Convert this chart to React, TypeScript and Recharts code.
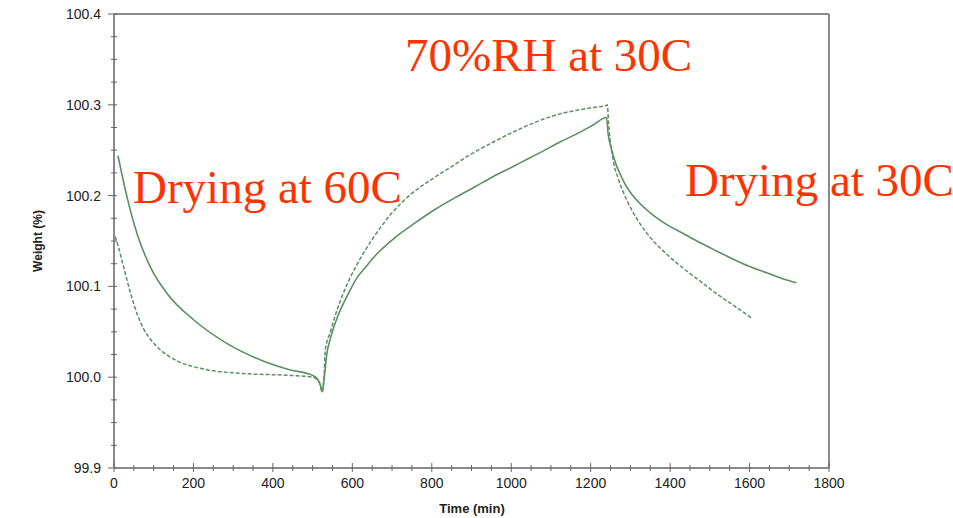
import React from "react";
import { LineChart, Line, XAxis, YAxis, ReferenceLine } from "recharts";

// Solid curve (time in min, weight in %)
const solidTime = [10, 33, 58, 92, 134, 201, 285, 369, 444, 500, 512, 519, 524, 528, 536, 545, 566, 590, 608, 635, 658, 708, 758, 809, 860, 910, 955, 1000, 1040, 1080, 1123, 1165, 1207, 1240, 1244, 1250, 1257, 1265, 1274, 1290, 1308, 1350, 1392, 1434, 1476, 1517, 1559, 1600, 1643, 1680, 1718];
const solidWeight = [100.244, 100.198, 100.158, 100.121, 100.092, 100.063, 100.037, 100.019, 100.008, 100.002, 99.998, 99.992, 99.984, 99.995, 100.026, 100.043, 100.070, 100.092, 100.107, 100.122, 100.134, 100.154, 100.170, 100.185, 100.198, 100.210, 100.221, 100.231, 100.240, 100.249, 100.259, 100.268, 100.278, 100.286, 100.268, 100.255, 100.244, 100.233, 100.224, 100.210, 100.199, 100.181, 100.168, 100.158, 100.148, 100.139, 100.130, 100.122, 100.115, 100.109, 100.104];

// Dashed curve
const dashedTime = [3, 12, 25, 42, 58, 75, 95, 117, 159, 226, 327, 444, 500, 512, 519, 524, 528, 532, 545, 557, 575, 595, 630, 663, 700, 746, 800, 850, 900, 955, 1000, 1040, 1080, 1123, 1165, 1207, 1237, 1242, 1245, 1257, 1270, 1291, 1320, 1350, 1390, 1433, 1475, 1517, 1560, 1606];
const dashedWeight = [100.155, 100.142, 100.120, 100.092, 100.070, 100.053, 100.040, 100.030, 100.018, 100.009, 100.004, 100.002, 100.000, 99.997, 99.992, 99.984, 99.995, 100.030, 100.050, 100.068, 100.090, 100.110, 100.138, 100.160, 100.181, 100.201, 100.218, 100.232, 100.246, 100.259, 100.269, 100.277, 100.284, 100.290, 100.294, 100.297, 100.299, 100.300, 100.280, 100.238, 100.218, 100.195, 100.172, 100.154, 100.136, 100.120, 100.106, 100.092, 100.079, 100.065];

const xMajorTicks = [0, 200, 400, 600, 800, 1000, 1200, 1400, 1600, 1800];
const yMajorTicks = [99.9, 100.0, 100.1, 100.2, 100.3, 100.4];
const xAllTicks = Array.from({ length: 37 }, (_, i) => i * 50);
const yAllTicks = Array.from({ length: 21 }, (_, i) => +(99.9 + i * 0.025).toFixed(3));

const annotations = [
  { text: "Drying at 60C", x: 133, y: 203 },
  { text: "70%RH at 30C", x: 405, y: 71 },
  { text: "Drying at 30C", x: 685, y: 196 },
];

const solidData = solidTime.map((t, i) => ({ t, w: solidWeight[i] }));
const dashedData = dashedTime.map((t, i) => ({ t, w: dashedWeight[i] }));

const AXIS = "#8a8a8a";
const LINE = "#5a9062";
const TXT = "#222";
const FONT = "'Liberation Sans', Arial, sans-serif";

const isMajor = (v: number, list: number[]) => list.some((m) => Math.abs(m - v) < 1e-6);

const XTick = (props: any) => {
  const { x, y, payload } = props;
  const major = isMajor(payload.value, xMajorTicks);
  return (
    <g>
      <line x1={x} x2={x} y1={y - (major ? 5 : 3)} y2={y + (major ? 4 : 3)} stroke="#666" strokeWidth={1} />
      {major && (
        <text x={x} y={y + 20} textAnchor="middle" fontSize={14} fill={TXT} fontFamily={FONT}>
          {payload.value}
        </text>
      )}
    </g>
  );
};

const YTick = (props: any) => {
  const { x, y, payload } = props;
  const major = isMajor(payload.value, yMajorTicks);
  return (
    <g>
      <line x1={x - (major ? 6 : 3)} x2={x + 3} y1={y} y2={y} stroke="#666" strokeWidth={1} />
      {major && (
        <text x={x - 13} y={y + 5} textAnchor="end" fontSize={14} fill={TXT} fontFamily={FONT}>
          {payload.value.toFixed(1)}
        </text>
      )}
    </g>
  );
};

export default function App() {
  return (
    <div style={{ position: "absolute", left: 0, top: 0, width: 953, height: 518, background: "#fff" }}>
      <LineChart
        width={953}
        height={518}
        margin={{ top: 14, right: 124, bottom: 20, left: 54 }}
      >
        <XAxis
          type="number"
          dataKey="t"
          domain={[0, 1800]}
          ticks={xAllTicks}
          interval={0}
          tickSize={0}
          tickMargin={0}
          tick={<XTick />}
          axisLine={{ stroke: AXIS, strokeWidth: 2 }}
          height={30}
          allowDataOverflow
        />
        <YAxis
          type="number"
          dataKey="w"
          domain={[99.9, 100.4]}
          ticks={yAllTicks}
          interval={0}
          tickSize={0}
          tickMargin={0}
          tick={<YTick />}
          axisLine={{ stroke: AXIS, strokeWidth: 2 }}
          width={60}
          allowDataOverflow
        />
        <ReferenceLine y={100.4} stroke={AXIS} strokeWidth={2} />
        <ReferenceLine x={1800} stroke={AXIS} strokeWidth={2} />
        <Line
          data={dashedData}
          dataKey="w"
          type="monotone"
          stroke={LINE}
          strokeWidth={1.5}
          strokeDasharray="4 2"
          dot={false}
          isAnimationActive={false}
        />
        <Line
          data={solidData}
          dataKey="w"
          type="monotone"
          stroke={LINE}
          strokeWidth={1.6}
          dot={false}
          isAnimationActive={false}
        />
      </LineChart>
      <svg width={953} height={518} style={{ position: "absolute", left: 0, top: 0, pointerEvents: "none" }}>
        <text
          x={0}
          y={0}
          transform="translate(42 241) rotate(-90)"
          textAnchor="middle"
          fontSize={12}
          fontWeight="bold"
          fill={TXT}
          fontFamily={FONT}
        >
          Weight (%)
        </text>
        <text x={472} y={513} textAnchor="middle" fontSize={13} fontWeight="bold" fill={TXT} fontFamily={FONT}>
          Time (min)
        </text>
        {annotations.map((a) => (
          <text key={a.text} x={a.x} y={a.y} fontSize={47} fill="#ff3300" fontFamily="'Liberation Serif', 'Times New Roman', serif">
            {a.text}
          </text>
        ))}
      </svg>
    </div>
  );
}
